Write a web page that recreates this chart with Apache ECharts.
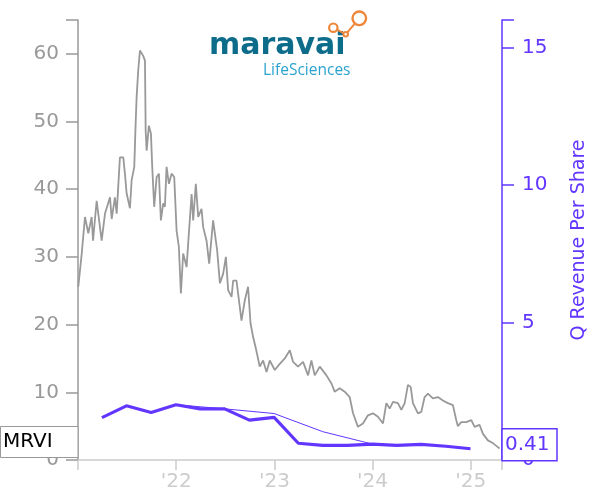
<!DOCTYPE html>
<html>
<head>
<meta charset="utf-8">
<script src="https://cdn.jsdelivr.net/npm/echarts@6/dist/echarts.min.js"></script>
<style>
html,body{margin:0;padding:0;background:#fff;}
#chart{width:600px;height:500px;}
</style>
</head>
<body>
<div id="chart"></div>
<script>
// ---- data ----
const ticker = 'MRVI';
const lastRevLabel = '0.41';
const xTickYears = [2022, 2023, 2024, 2025];
const leftTicks = [0, 10, 20, 30, 40, 50, 60];
const rightTicks = [0, 5, 10, 15];

// share price (decimal year, USD)
const priceT = [2021.003,2021.038,2021.071,2021.105,2021.139,2021.153,2021.190,2021.241,2021.275,2021.326,2021.343,2021.376,2021.394,2021.427,2021.461,2021.478,2021.495,2021.529,2021.546,2021.573,2021.587,2021.597,2021.613,2021.631,2021.664,2021.682,2021.689,2021.699,2021.722,2021.743,2021.756,2021.776,2021.801,2021.824,2021.844,2021.868,2021.885,2021.902,2021.926,2021.953,2021.980,2022.004,2022.027,2022.048,2022.071,2022.106,2022.122,2022.157,2022.173,2022.200,2022.224,2022.258,2022.275,2022.309,2022.336,2022.376,2022.417,2022.445,2022.478,2022.506,2022.529,2022.564,2022.580,2022.614,2022.665,2022.699,2022.732,2022.757,2022.783,2022.811,2022.851,2022.885,2022.920,2022.953,2023.004,2023.055,2023.106,2023.157,2023.190,2023.241,2023.292,2023.343,2023.377,2023.411,2023.462,2023.530,2023.581,2023.614,2023.665,2023.716,2023.767,2023.801,2023.851,2023.902,2023.953,2024.004,2024.055,2024.106,2024.140,2024.174,2024.208,2024.258,2024.293,2024.327,2024.360,2024.388,2024.411,2024.462,2024.496,2024.530,2024.564,2024.614,2024.665,2024.716,2024.767,2024.818,2024.852,2024.869,2024.903,2024.954,2025.005,2025.039,2025.089,2025.123,2025.174,2025.225,2025.276,2025.293];
const priceV = [25.6,30.5,35.9,33.5,35.9,32.4,38.3,32.4,36.4,38.8,35.6,38.8,36.4,44.7,44.7,42.3,39.4,37.2,41.3,43.3,49.7,53.6,57.5,60.5,59.7,59.0,48.7,45.7,49.4,48.2,43.3,37.4,41.8,42.3,35.4,37.9,37.4,43.3,40.8,42.3,41.8,33.9,31.5,24.6,30.5,28.5,32.0,39.3,35.4,40.8,35.9,37.1,34.4,32.4,29.0,35.4,31.0,26.1,27.5,30.0,25.1,24.1,26.5,26.5,20.6,23.6,25.6,20.2,18.2,16.5,13.8,14.7,13.0,14.7,13.3,14.2,15.0,16.2,14.5,13.8,14.5,12.5,14.7,12.5,13.8,12.5,11.3,10.1,10.6,10.1,9.3,6.9,4.9,5.4,6.6,6.9,6.4,5.4,8.4,7.6,8.6,8.4,7.4,8.4,11.1,10.8,8.4,6.9,7.1,9.3,9.8,9.1,9.3,8.8,8.4,8.1,5.9,5.0,5.6,5.6,5.9,4.9,5.2,3.9,2.9,2.5,1.9,1.7];

// quarterly revenue per share
const revDates = ['2021-03-31','2021-06-30','2021-09-30','2021-12-31','2022-03-31','2022-06-30','2022-09-30','2022-12-31','2023-03-31','2023-06-30','2023-09-30','2023-12-31','2024-03-31','2024-06-30','2024-09-30','2024-12-31'];
const revValues = [1.54,1.97,1.73,2.01,1.86,1.86,1.45,1.55,0.61,0.53,0.53,0.58,0.53,0.57,0.50,0.41];

// thin (semi-annual) revenue per share line
const semiDates = ['2021-12-31','2022-06-30','2022-12-31','2023-06-30','2023-12-31'];
const semiValues = [2.01,1.86,1.69,1.03,0.58];

// ---- helpers ----
function toYear(s){
  const d = new Date(s + 'T00:00:00Z');
  const y = d.getUTCFullYear();
  const a = Date.UTC(y,0,1), b = Date.UTC(y+1,0,1);
  return y + (d.getTime() - a) / (b - a);
}
const zip = (xs, ys) => xs.map((x,i)=>[x, ys[i]]);

const GRAY = '#999999';
const LIGHT = '#cccccc';
const PURPLE = '#6236ff';
const FONT = 'DejaVu Sans';
const xMin = 2021, xMax = 2025.318;

const chart = echarts.init(document.getElementById('chart'), null, {renderer:'canvas'});
chart.setOption({
  animation: false,
  backgroundColor: '#ffffff',
  textStyle: {fontFamily: FONT},
  grid: {left: 78, right: 98, top: 20, bottom: 40, containLabel: false},
  xAxis: {
    type: 'value', min: xMin, max: xMax, interval: 1,
    splitLine: {show: false},
    axisLine: {show: true, lineStyle: {color: LIGHT, width: 1.5}},
    axisTick: {show: true, length: 10, lineStyle: {color: LIGHT, width: 1.5},
               customValues: [xMin].concat(xTickYears, [xMax])},
    axisLabel: {color: LIGHT, fontSize: 20, margin: 12, fontFamily: FONT,
                customValues: xTickYears,
                formatter: v => "'" + String(Math.round(v)).slice(2)}
  },
  yAxis: [{
    type: 'value', min: 0, max: 65, interval: 10, position: 'left',
    splitLine: {show: false},
    axisLine: {show: true, lineStyle: {color: GRAY, width: 1.5}},
    axisTick: {show: true, length: 12, lineStyle: {color: GRAY, width: 1.5},
               customValues: leftTicks.concat([65])},
    axisLabel: {color: GRAY, fontSize: 20, margin: 19, fontFamily: FONT, customValues: leftTicks}
  },{
    type: 'value', min: 0, max: 16, interval: 5, position: 'right',
    splitLine: {show: false},
    axisLine: {show: true, lineStyle: {color: PURPLE, width: 1.5}},
    axisTick: {show: true, length: 12, lineStyle: {color: PURPLE, width: 1.5},
               customValues: rightTicks.concat([16])},
    axisLabel: {color: PURPLE, fontSize: 20, margin: 20, fontFamily: FONT, customValues: rightTicks},
    name: 'Q Revenue Per Share', nameLocation: 'middle', nameGap: 68, nameRotate: 90,
    nameTextStyle: {color: PURPLE, fontSize: 19, fontFamily: FONT}
  }],
  series: [{
    type: 'line', yAxisIndex: 0, data: zip(priceT, priceV), showSymbol: false,
    lineStyle: {color: GRAY, width: 1.8}, z: 2
  },{
    type: 'line', yAxisIndex: 1, data: zip(semiDates.map(toYear), semiValues), showSymbol: false,
    lineStyle: {color: PURPLE, width: 1}, z: 3
  },{
    type: 'line', yAxisIndex: 1, data: zip(revDates.map(toYear), revValues), showSymbol: false,
    lineStyle: {color: PURPLE, width: 3.2}, z: 4
  }]
});

// annotations: ticker box and last value box, logo
const yLast = chart.convertToPixel({yAxisIndex: 1}, revValues[revValues.length-1]);
const xRight = chart.convertToPixel({xAxisIndex: 0}, xMax);
const xLeft = chart.convertToPixel({xAxisIndex: 0}, xMin);
const yZero = chart.convertToPixel({yAxisIndex: 0}, 0);

chart.setOption({
  graphic: [
    // ticker box
    {type: 'rect', z: 100, shape: {x: 0.5, y: yZero - 33.5, width: xLeft - 0.5, height: 31},
     style: {fill: '#fff', stroke: GRAY, lineWidth: 1}},
    {type: 'text', z: 101, x: 3, y: yZero - 18,
     style: {text: ticker, fill: '#000', font: '20px "DejaVu Sans"', verticalAlign: 'middle', align: 'left'}},
    // last value box
    {type: 'rect', z: 100, shape: {x: xRight, y: yLast - 20, width: 55, height: 32},
     style: {fill: '#fff', stroke: PURPLE, lineWidth: 1.5}},
    {type: 'text', z: 101, x: xRight + 3, y: yLast - 4,
     style: {text: lastRevLabel, fill: PURPLE, font: '20px "DejaVu Sans"', verticalAlign: 'middle', align: 'left'}},
    // logo
    {type: 'text', z: 50, x: 209, y: 46,
     style: {text: 'maravai', fill: '#0e6c8b', font: 'bold 30px "DejaVu Sans"', verticalAlign: 'middle', align: 'left'}},
    {type: 'text', z: 50, x: 263, y: 71,
     style: {text: 'LifeSciences', fill: '#2ba3cf', font: '15.5px "Open Sans"', verticalAlign: 'middle', align: 'left'}},
    {type: 'polyline', z: 50, shape: {points: [[333.3,27.7],[345.7,34.3],[359.3,18.3]]},
     style: {stroke: '#ef873a', lineWidth: 2, fill: null}},
    {type: 'circle', z: 51, shape: {cx: 333.3, cy: 27.7, r: 4.2}, style: {fill: '#fff', stroke: '#ef873a', lineWidth: 2.2}},
    {type: 'circle', z: 51, shape: {cx: 345.7, cy: 34.3, r: 2.3}, style: {fill: '#fff', stroke: '#ef873a', lineWidth: 2}},
    {type: 'circle', z: 51, shape: {cx: 359.3, cy: 18.3, r: 6.8}, style: {fill: '#fff', stroke: '#ef873a', lineWidth: 2.4}}
  ]
});
</script>
</body>
</html>
